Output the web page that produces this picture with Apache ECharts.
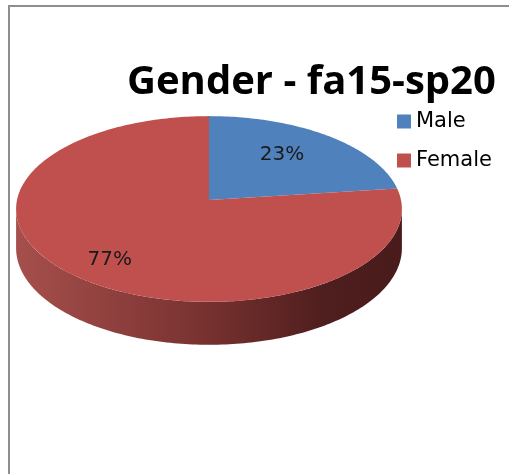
<!DOCTYPE html>
<html>
<head>
<meta charset="utf-8">
<script src="https://cdn.jsdelivr.net/npm/echarts@6/dist/echarts.min.js"></script>
<style>html,body{margin:0;padding:0;background:#fff}#c{width:509px;height:474px}</style>
</head>
<body>
<div id="c"></div>
<script>
const titleText = 'Gender - fa15-sp20';
const categories = ['Male', 'Female'];
const values = [23, 77];

const colors = ['#4f81bd', '#c0504d'];
const labelRadius = [0.6, 0.74];
const labelDy = [-6, 6];
const FONT = '"DejaVu Sans", sans-serif';
const TITLE_FONT = '"Open Sans", sans-serif';

const total = values.reduce((a, b) => a + b, 0);
// projection geometry (style)
const cx = 209, cy = 200, sR = 192, A = 92, k = 0.0968, D = 38.8;
function proj(theta, f, bottom) {
  const w = 1 + k * f * Math.cos(theta);
  return [cx + sR * f * Math.sin(theta) / w, cy + (-A * f * Math.cos(theta) + (bottom ? D : 0)) / w];
}
function arcPts(t1, t2, f, bottom) {
  const n = Math.max(2, Math.ceil((t2 - t1) / (Math.PI / 180)));
  const pts = [];
  for (let j = 0; j <= n; j++) pts.push(proj(t1 + (t2 - t1) * j / n, f, bottom));
  return pts;
}
const visLo = Math.acos(-k), visHi = 2 * Math.PI - Math.acos(-k);

function makeRender(i) {
  return function (params, api) {
    const v = api.value(0);
    let before = 0;
    for (let j = 0; j < i; j++) before += values[j];
    const t1 = before / total * 2 * Math.PI;
    const t2 = (before + v) / total * 2 * Math.PI;
    const children = [];
    const lo = Math.max(t1, visLo), hi = Math.min(t2, visHi);
    if (hi > lo) {
      const top = arcPts(lo, hi, 1, false);
      const bot = arcPts(lo, hi, 1, true).reverse();
      children.push({
        type: 'polygon',
        shape: { points: top.concat(bot) },
        style: {
          fill: {
            type: 'linear', x: 16, y: 0, x2: 402, y2: 0, global: true,
            colorStops: [
              { offset: 0, color: '#a64f4c' },
              { offset: 0.45, color: '#7c3432' },
              { offset: 0.8, color: '#4f1e1e' },
              { offset: 1, color: '#491b1b' }
            ]
          }
        }
      });
    }
    const face = [[cx, cy]].concat(arcPts(t1, t2, 1, false));
    children.push({ type: 'polygon', shape: { points: face }, style: { fill: colors[i] } });
    const mid = (t1 + t2) / 2;
    const lp = proj(mid, labelRadius[i], false);
    children.push({
      type: 'text',
      style: {
        text: Math.round(v / total * 100) + '%',
        x: lp[0], y: lp[1] + labelDy[i], align: 'center', verticalAlign: 'middle',
        font: '20px ' + FONT, fill: '#1a1a1a'
      }
    });
    return { type: 'group', children: children };
  };
}

const chart = echarts.init(document.getElementById('c'));
chart.setOption({
  animation: false,
  backgroundColor: '#fff',
  title: {
    text: titleText, left: 127, top: 63, padding: 0,
    textStyle: { fontFamily: TITLE_FONT, fontWeight: 'bold', fontSize: 40, color: '#000' }
  },
  legend: {
    data: categories, orient: 'vertical', left: 397, top: 111, padding: 0,
    icon: 'rect', itemWidth: 14, itemHeight: 14, itemGap: 18,
    textStyle: { fontFamily: FONT, fontSize: 21, color: '#000' }
  },
  graphic: [{
    type: 'rect', shape: { x: 9, y: 6, width: 600, height: 600 },
    style: { fill: 'none', stroke: '#8e8e8e', lineWidth: 2 }, z: 100
  }],
  series: categories.map((name, i) => ({
    type: 'custom', name: name, coordinateSystem: 'none',
    data: [values[i]], itemStyle: { color: colors[i] },
    renderItem: makeRender(i)
  }))
});
</script>
</body>
</html>
